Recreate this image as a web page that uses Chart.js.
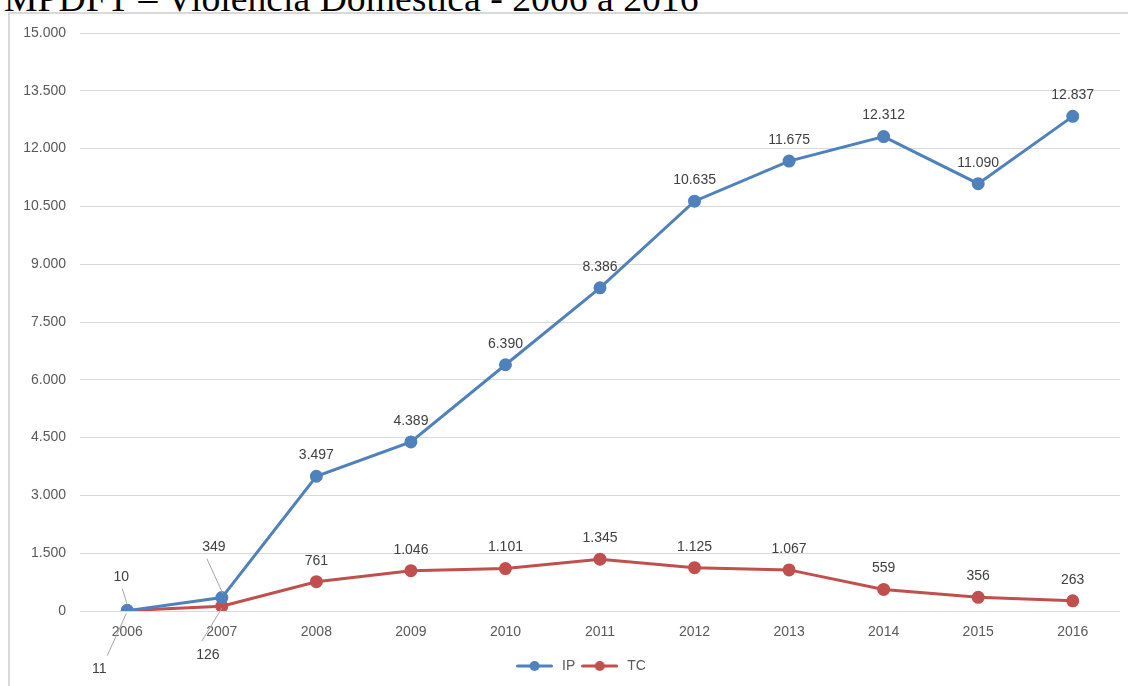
<!DOCTYPE html>
<html>
<head>
<meta charset="utf-8">
<script src="https://cdn.jsdelivr.net/npm/chart.js@4/dist/chart.umd.min.js"></script>
<style>
  html, body { margin: 0; padding: 0; background: #fff; overflow: hidden; width: 1128px; height: 686px; }
  #title { position: absolute; left: 4px; top: -21px; font-family: "Liberation Serif", "Times New Roman", serif; font-size: 37.7px; line-height: 38px; color: #000; white-space: nowrap; }
  #frame { position: absolute; left: 8px; top: 12px; width: 1140px; height: 700px; border-left: 2px solid #d9d9d9; border-top: 2px solid #d9d9d9; }
  #wrap { position: absolute; left: 10px; top: 14px; width: 1118px; height: 672px; }
</style>
</head>
<body>
<div id="title">MPDFT – Violência Doméstica - 2006 a 2016</div>
<div id="frame"></div>
<div id="wrap"><canvas id="c"></canvas></div>
<script>
const categories = ['2006','2007','2008','2009','2010','2011','2012','2013','2014','2015','2016'];
const ipValues = [10, 349, 3497, 4389, 6390, 8386, 10635, 11675, 12312, 11090, 12837];
const tcValues = [11, 126, 761, 1046, 1101, 1345, 1125, 1067, 559, 356, 263];
const yTicks = [0, 1500, 3000, 4500, 6000, 7500, 9000, 10500, 12000, 13500, 15000];

const fmt = v => String(Math.round(v)).replace(/\B(?=(\d{3})+(?!\d))/g, '.');

// label placement (offsets from the point, in px) and leader lines
const labelPlacement = {
  0: { // IP
    0: { dx: -6, dy: -33, leader: [-5, -22, 0, -6] },
    1: { dx: -8, dy: -50, leader: [-15, -39, 1, -4] }
  },
  1: { // TC
    0: { dx: -28, dy: 59, leader: [-20, 45, -1, 3] },
    1: { dx: -14, dy: 49, leader: [-20, 35, 0, 2] }
  }
};

function legendMarker(color) {
  const cv = document.createElement('canvas');
  cv.width = 37; cv.height = 12;
  const g = cv.getContext('2d');
  g.strokeStyle = color; g.lineWidth = 3; g.lineCap = 'round';
  g.beginPath(); g.moveTo(1.5, 6); g.lineTo(35.5, 6); g.stroke();
  g.fillStyle = color; g.beginPath(); g.arc(18.5, 6, 5, 0, Math.PI * 2); g.fill();
  return cv;
}

const dataLabels = {
  id: 'dataLabels',
  afterDatasetsDraw(chart) {
    const ctx = chart.ctx;
    ctx.save();
    ctx.font = '14px "Liberation Sans", Arial, sans-serif';
    ctx.fillStyle = '#404040';
    ctx.textAlign = 'center';
    ctx.textBaseline = 'middle';
    chart.data.datasets.forEach((ds, di) => {
      const meta = chart.getDatasetMeta(di);
      meta.data.forEach((pt, i) => {
        const p = (labelPlacement[di] && labelPlacement[di][i]) || { dx: 0, dy: -21 };
        if (p.leader) {
          const l = p.leader;
          ctx.strokeStyle = '#a6a6a6';
          ctx.lineWidth = 1;
          ctx.beginPath();
          ctx.moveTo(pt.x + l[0], pt.y + l[1]);
          ctx.lineTo(pt.x + l[2], pt.y + l[3]);
          ctx.stroke();
        }
        ctx.fillText(fmt(ds.data[i]), pt.x + p.dx, pt.y + p.dy);
      });
    });
    ctx.restore();
  }
};

const legendShift = {
  id: 'legendShift',
  afterLayout(chart) {
    if (chart.legend) {
      chart.legend.left += 14; chart.legend.right += 14;
      chart.legend.top -= 3; chart.legend.bottom -= 3;
    }
  }
};

new Chart(document.getElementById('c'), {
  type: 'line',
  data: {
    labels: categories,
    datasets: [
      { label: 'IP', data: ipValues, borderColor: '#4f81bd', backgroundColor: '#4f81bd', borderWidth: 3,
        pointRadius: 5, pointHoverRadius: 5, pointBackgroundColor: '#4f81bd', pointBorderColor: '#4f81bd', tension: 0 },
      { label: 'TC', data: tcValues, borderColor: '#c0504d', backgroundColor: '#c0504d', borderWidth: 3,
        pointRadius: 5, pointHoverRadius: 5, pointBackgroundColor: '#c0504d', pointBorderColor: '#c0504d', tension: 0 }
    ]
  },
  options: {
    responsive: true,
    maintainAspectRatio: false,
    animation: false,
    events: [],
    layout: { padding: { left: 0, right: 6, top: 19, bottom: 0 } },
    scales: {
      x: {
        offset: true,
        grid: { display: false, drawTicks: false },
        border: { display: false },
        ticks: { color: '#595959', font: { family: '"Liberation Sans", Arial, sans-serif', size: 14 }, padding: 13, maxRotation: 0 },
        afterFit(scale) {
          const lh = scale.chart.legend ? scale.chart.legend.height : 0;
          scale.height = 75 - lh;
        }
      },
      y: {
        min: 0, max: 15000,
        afterBuildTicks(scale) { scale.ticks = yTicks.map(v => ({ value: v })); },
        grid: { color: '#d9d9d9', lineWidth: 1, drawTicks: false },
        border: { display: false },
        ticks: { color: '#595959', font: { family: '"Liberation Sans", Arial, sans-serif', size: 14 }, padding: 14, callback: v => fmt(v) },
        afterFit(scale) { scale.width = 70; scale.paddingTop = 0; scale.paddingBottom = 0; }
      }
    },
    plugins: {
      legend: {
        position: 'bottom',
        labels: {
          usePointStyle: true,
          pointStyleWidth: 41,
          padding: 4,
          color: '#595959',
          font: { family: '"Liberation Sans", Arial, sans-serif', size: 14 },
          generateLabels(chart) {
            return chart.data.datasets.map((ds, i) => ({
              text: ds.label, datasetIndex: i, pointStyle: legendMarker(ds.borderColor),
              fillStyle: ds.borderColor, strokeStyle: ds.borderColor, lineWidth: 0, hidden: false, fontColor: '#595959'
            }));
          }
        }
      },
      tooltip: { enabled: false }
    }
  },
  plugins: [dataLabels, legendShift]
});
</script>
</body>
</html>
